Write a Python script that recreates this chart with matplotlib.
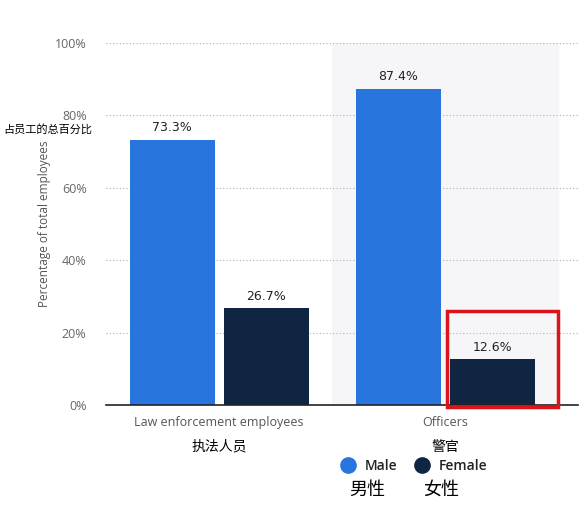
import matplotlib.pyplot as plt
from matplotlib.patches import Rectangle
from matplotlib.lines import Line2D
import numpy as np

# Données
categories = ["Law enforcement employees", "Officers"]
categories_cn = ["执法人员", "警官"]
male = [73.3, 87.4]
female = [26.7, 12.6]
yticks = [0, 20, 40, 60, 80, 100]

blue = "#2876dd"
navy = "#0f2541"
cjk = ["Noto Sans CJK SC", "DejaVu Sans"]

fig = plt.figure(figsize=(5.8, 5.11), dpi=100)
ax = fig.add_axes([106 / 580, 106 / 511, 472 / 580, 362 / 511])

x = np.arange(len(categories))
w = 0.376
off = 0.208

# Fond gris clair pour le second groupe
ax.axvspan(0.5, 1.5, color="#f6f6f8", zorder=0)

b1 = ax.bar(x - off, male, w, color=blue, zorder=3)
b2 = ax.bar(x + off, female, w, color=navy, zorder=3)

for bars in (b1, b2):
    for r in bars:
        ax.text(r.get_x() + r.get_width() / 2, r.get_height() + 1.5, f"{r.get_height():.1f}%",
                ha="center", va="bottom", fontsize=9, color="#222222")

ax.set_xlim(-0.5, 1.588)
ax.set_ylim(0, 100)
ax.set_yticks(yticks)
ax.set_yticklabels([f"{v}%" for v in yticks], fontsize=9, color="#666666", family="Open Sans")
ax.yaxis.grid(True, linestyle=(0, (1, 2)), color="#b0b0b0", linewidth=0.8, zorder=1)
ax.tick_params(axis="y", length=0, pad=14)
ax.set_xticks(x)
ax.set_xticklabels(categories, fontsize=9, color="#555555", family="Open Sans")
ax.tick_params(axis="x", length=0, pad=8)
for s in ["top", "right", "left"]:
    ax.spines[s].set_visible(False)
ax.spines["bottom"].set_color("#222222")
ax.spines["bottom"].set_linewidth(1.2)
ax.spines["bottom"].set_zorder(4)

ax.set_ylabel("Percentage of total employees", fontsize=8.5, color="#555555", family="Open Sans", labelpad=3)

# Cadre rouge autour de la barre des femmes officiers
ax.add_patch(Rectangle((1.007, -0.5), 0.491, 26.5, fill=False, edgecolor="#d9141b",
                       linewidth=2.5, clip_on=False, zorder=5))

# Textes chinois
fig.text(3 / 580, 1 - 129 / 511, "占员工的总百分比", fontsize=8, family=cjk, va="center", ha="left")
for xi, lab in zip(x, categories_cn):
    ax.text(xi, -11.5, lab, fontsize=10, family=cjk, ha="center", va="center", transform=ax.transData)

# Légende
handles = [Line2D([], [], marker="o", linestyle="", markersize=11, color=blue),
           Line2D([], [], marker="o", linestyle="", markersize=11, color=navy)]
fig.legend(handles, ["Male", "Female"], loc="center", bbox_to_anchor=(411 / 580, 1 - 466 / 511),
           ncol=2, frameon=False, prop={"family": "Open Sans", "size": 10, "weight": "semibold"},
           handletextpad=0.2, columnspacing=0.8, labelcolor="#222222")
fig.text(367 / 580, 1 - 490 / 511, "男性", fontsize=13, family=cjk, ha="center", va="center")
fig.text(441 / 580, 1 - 490 / 511, "女性", fontsize=13, family=cjk, ha="center", va="center")

plt.savefig("out.png", dpi=100)
